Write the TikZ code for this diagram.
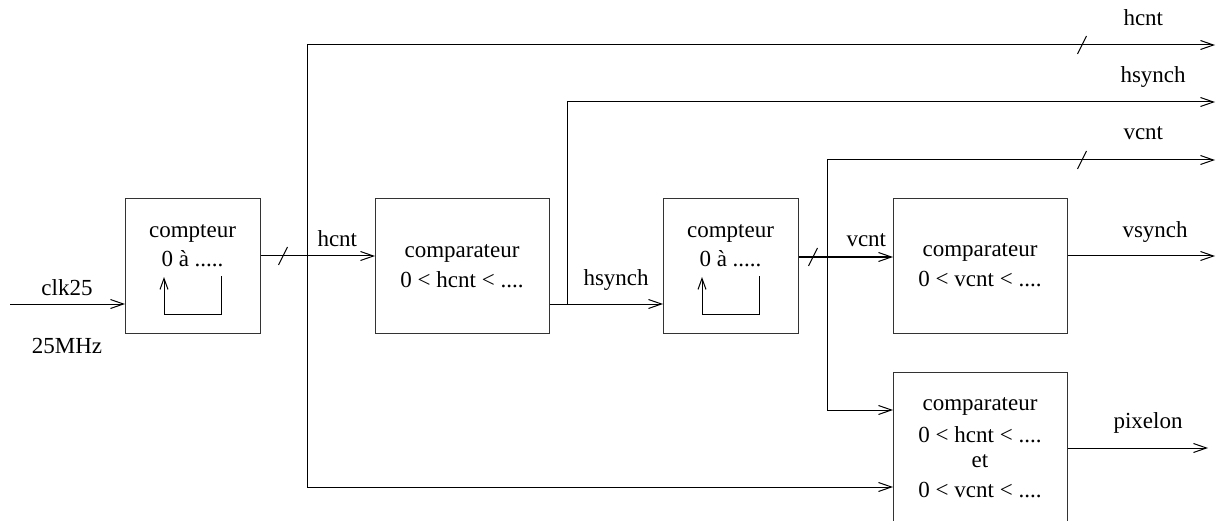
\documentclass[tikz,border=0pt]{standalone}
\usepackage{fontspec}
\setmainfont{Liberation Serif}
\usetikzlibrary{arrows.meta}
\begin{document}
\begin{tikzpicture}[x=1pt,y=-1pt,line width=1pt,
  blk/.style={draw=black!80,line width=1.2pt,minimum width=#1,minimum height=135pt,inner sep=0pt,anchor=north west},
  blk/.default=135pt,
  txt/.style={font=\fontsize{23}{27}\selectfont,inner sep=0pt,anchor=base},
  lbl/.style={font=\fontsize{23}{27}\selectfont,inner sep=0pt,anchor=base west},
  sig/.style={-{Straight Barb[length=13pt,width=9pt,line width=1pt]}},
  loopar/.style={-{Straight Barb[length=11pt,width=8pt,line width=1pt]}},
  tick/.style={line width=1pt}]
\useasboundingbox (0,0) rectangle (1217,521);
\clip (0,0) rectangle (1217,521);
% boxes
\node[blk] (b1) at (125,198) {};
\node[blk=174pt] (b2) at (375,198) {};
\node[blk] (b3) at (663,198) {};
\node[blk=174pt] (b4) at (893,198) {};
\node[blk=174pt,minimum height=170pt] (b5) at (893,372) {};
% box texts
\node[txt] (t1a) at (192.5,237) {compteur};
\node[txt] (t1b) at (192.5,266) {0 à .....};
\node[txt] (t2a) at (462,258) {comparateur};
\node[txt] (t2b) at (462,287) {0 < hcnt < ....};
\node[txt] (t3a) at (730.5,237) {compteur};
\node[txt] (t3b) at (730.5,266) {0 à .....};
\node[txt] (t4a) at (980,257) {comparateur};
\node[txt] (t4b) at (980,286) {0 < vcnt < ....};
\node[txt] (t5a) at (980,410) {comparateur};
\node[txt] (t5b) at (980,442) {0 < hcnt < ....};
\node[txt] (t5c) at (980,467) {et};
\node[txt] (t5d) at (980,497) {0 < vcnt < ....};
% inner loops
\coordinate (l1a) at (221,276);
\coordinate (l1b) at (164,277);
\draw[loopar] (l1a) -- (221,314) -- (164,314) -- (l1b);
\coordinate (l3a) at (759,276);
\coordinate (l3b) at (702,277);
\draw[loopar] (l3a) -- (759,314) -- (702,314) -- (l3b);
% clk input
\coordinate (clkin) at (10,304);
\draw[sig] (clkin) -- (clkin -| b1.west);
\node[txt] (clk) at (67,295) {clk25};
\node[txt] (mhz) at (67,353) {25MHz};
% hcnt
\coordinate (h1) at (b1.east |- 0,256);
\draw[sig] (h1) -- (h1 -| b2.west);
\draw[tick] (278.5,265) -- (287.5,247);
\node[lbl] (hcntl) at (317,247) {hcnt};
\coordinate (htop) at (307,45);
\coordinate (hbot) at (307,487);
\coordinate (hend) at (1215,45);
\draw[sig] (hbot) -- (htop) -- (hend);
\draw[tick] (1077.5,54) -- (1086.5,36);
\node[lbl] (hcntt) at (1123,26) {hcnt};
\draw[sig] (hbot) -- (hbot -| b5.west);
% hsynch
\coordinate (s1) at (b2.east |- 0,304);
\coordinate (sv) at (567,304);
\draw[sig] (s1) -- (s1 -| b3.west);
\node[lbl] (hsl) at (583,285) {hsynch};
\coordinate (stop) at (567,102);
\coordinate (send) at (1215,102);
\draw[sig] (sv) -- (stop) -- (send);
\node[lbl] (hst) at (1120,83) {hsynch};
% vcnt
\coordinate (v1) at (b3.east |- 0,257);
\draw[sig] (v1) -- (v1 -| b4.west);
\draw[tick] (808.5,266) -- (817.5,248);
\node[lbl] (vcl) at (846,247) {vcnt};
\coordinate (vtop) at (827,160);
\coordinate (vbot) at (827,410);
\coordinate (vend) at (1215,160);
\draw[sig] (vbot) -- (vtop) -- (vend);
\draw[sig] (vbot) -- (vbot -| b5.west);
\draw[tick] (1077.5,169) -- (1086.5,151);
\node[lbl] (vct) at (1123,140) {vcnt};
% vsynch
\coordinate (vs1) at (b4.east |- 0,256);
\coordinate (vsend) at (1215,256);
\draw[sig] (vs1) -- (vsend);
\node[lbl] (vsl) at (1122,237) {vsynch};
% pixelon
\coordinate (p1) at (b5.east |- 0,448);
\coordinate (pend) at (1208,448);
\draw[sig] (p1) -- (pend);
\node[lbl] (pxl) at (1113,428) {pixelon};
\end{tikzpicture}
\end{document}
